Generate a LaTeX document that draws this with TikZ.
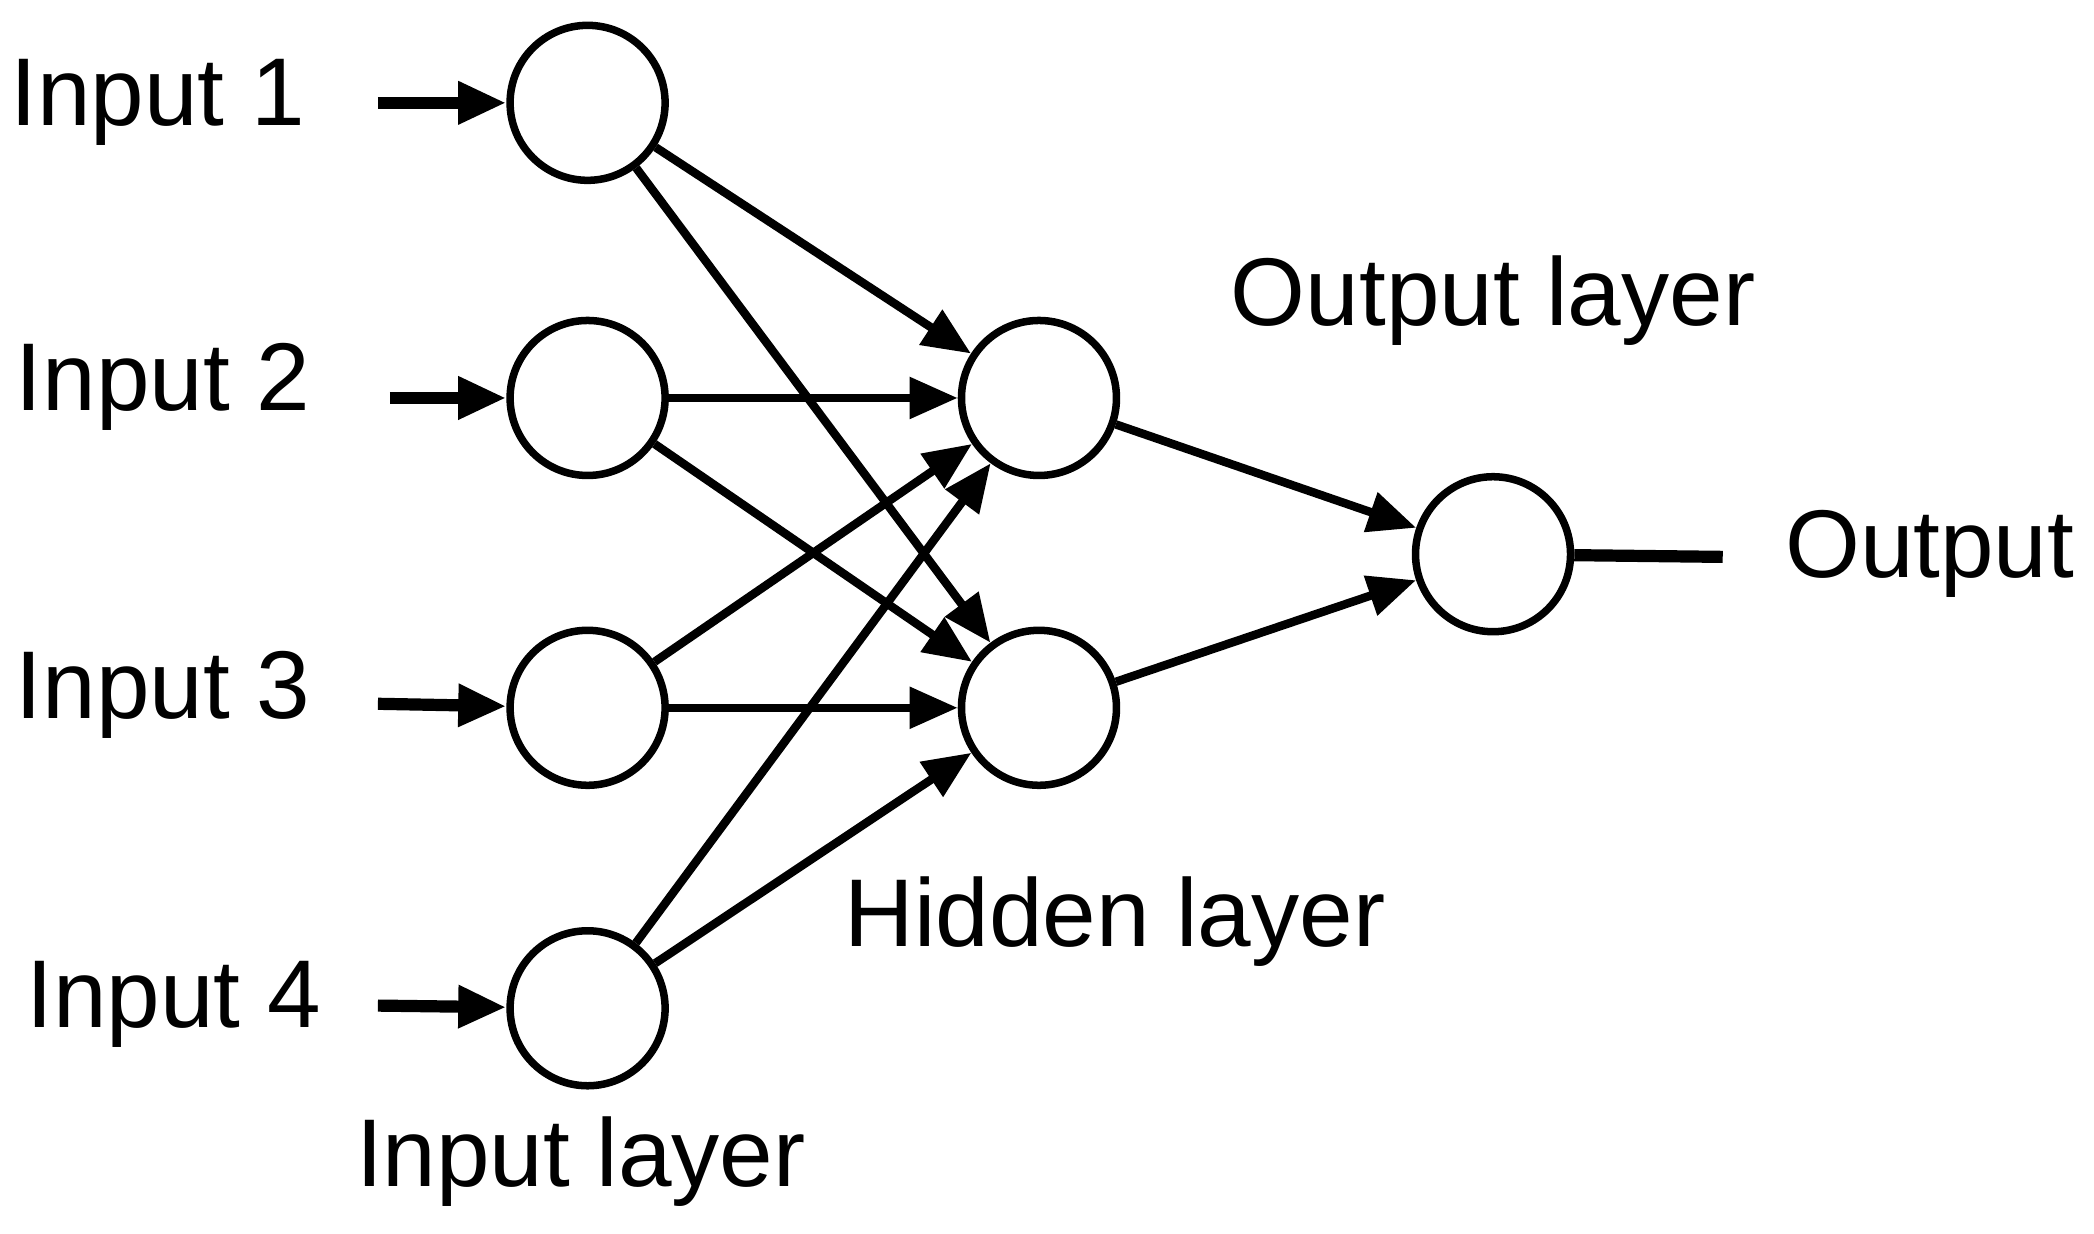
\documentclass[tikz,border=0pt]{standalone}
\usepackage{fontspec}
\setmainfont{Liberation Sans}
\usetikzlibrary{arrows.meta}
\begin{document}
\begin{tikzpicture}[x=0.01cm,y=-0.01cm,
  neuron/.style={circle,draw,line width=1.6pt,minimum size=1.16cm,inner sep=0pt},
  conn/.style={line width=1.8pt,-{Triangle[length=0.36cm,width=0.3cm]}},
  lbl/.style={font=\fontsize{20.5}{24}\selectfont}]
\useasboundingbox (0,0) rectangle (1568,924);
\foreach \i/\y in {1/77,2/298,3/530,4/755}{
  \node[neuron] (i\i) at (440,\y) {};
}
\node[neuron] (h1) at (778,298) {};
\node[neuron] (h2) at (778,530) {};
\node[neuron] (o) at (1118,415) {};
\node[lbl] (l1) at (118,77) {Input 1};
\node[lbl] (l2) at (122,290) {Input 2};
\node[lbl] (l3) at (122,520) {Input 3};
\node[lbl] (l4) at (130,752) {Input 4};
\coordinate (s1) at (283,77);
\coordinate (s2) at (292,298);
\coordinate (s3) at (283,527);
\coordinate (s4) at (283,753);
\foreach \i in {1,2,3,4}{ \draw[conn,line width=2.6pt] (s\i) -- (i\i); }
\foreach \i in {1,2,3,4}{ \foreach \h in {1,2}{ \draw[conn] (i\i) -- (h\h); } }
\draw[conn] (h1) -- (o);
\draw[conn] (h2) -- (o);
\coordinate (e) at (1290,417);
\draw[line width=2.6pt] (o) -- (e);
\node[lbl] (out) at (1445,415) {Output};
\node[lbl] (ol) at (1118,225) {Output layer};
\node[lbl] (hl) at (835,690) {Hidden layer};
\node[lbl] (il) at (435,870) {Input layer};
\end{tikzpicture}
\end{document}
